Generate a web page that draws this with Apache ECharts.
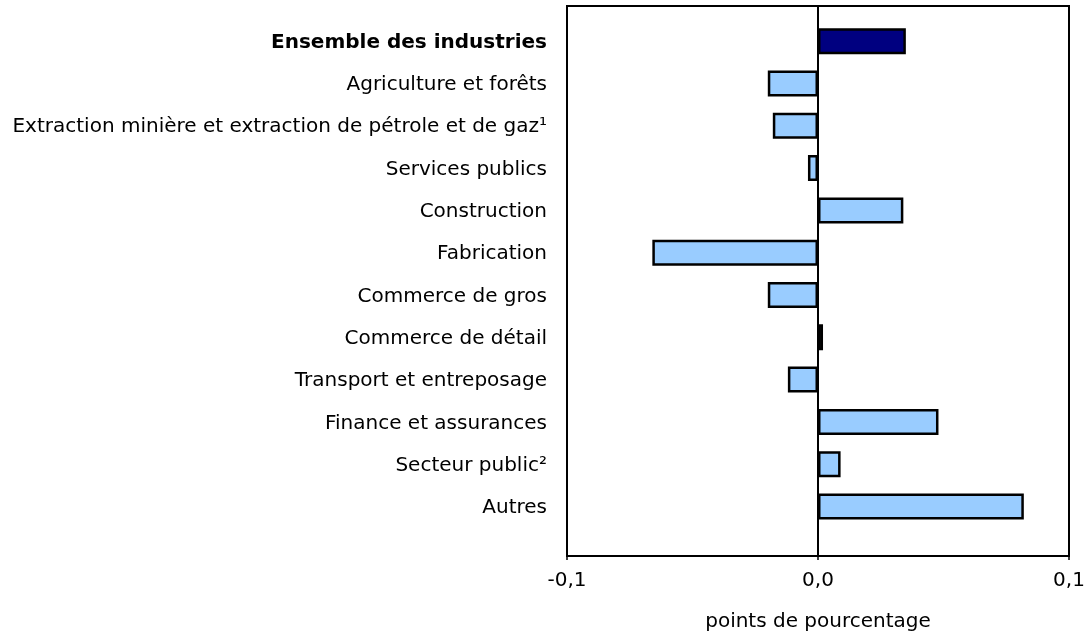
<!DOCTYPE html>
<html>
<head>
<meta charset="utf-8">
<script src="https://cdn.jsdelivr.net/npm/echarts@6/dist/echarts.min.js"></script>
<style>
  html, body { margin: 0; padding: 0; background: #fff; }
  #chart { width: 1088px; height: 634px; }
</style>
</head>
<body>
<div id="chart"></div>
<script>
// categories, top to bottom
var categories = [
  "Ensemble des industries",
  "Agriculture et forêts",
  "Extraction minière et extraction de pétrole et de gaz¹",
  "Services publics",
  "Construction",
  "Fabrication",
  "Commerce de gros",
  "Commerce de détail",
  "Transport et entreposage",
  "Finance et assurances",
  "Secteur public²",
  "Autres"
];
// points de pourcentage
var values = [0.035, -0.020, -0.018, -0.004, 0.034, -0.066, -0.020, 0.002, -0.012, 0.048, 0.009, 0.082];
var xMin = -0.1, xMax = 0.1, xStep = 0.1;

var font = "'DejaVu Sans', Verdana, sans-serif";
var fs = 20;
var chart = echarts.init(document.getElementById('chart'));

var barData = values.map(function (v, i) {
  return {
    value: v,
    itemStyle: { color: i === 0 ? '#000080' : '#99ccff' }
  };
});

var option = {
  animation: false,
  grid: [
    // frame
    { left: 567, top: 6, width: 502, height: 550, show: true, borderColor: '#000', borderWidth: 2,
      backgroundColor: 'transparent', containLabel: false, outerBoundsMode: 'none' },
    // bars (an empty band at the bottom)
    { left: 567, top: 20, width: 502, height: 550, containLabel: false, outerBoundsMode: 'none' }
  ],
  xAxis: [{
    gridIndex: 0,
    type: 'value',
    min: xMin, max: xMax, interval: xStep,
    name: 'points de pourcentage',
    nameLocation: 'middle',
    nameGap: 56,
    nameTextStyle: { fontFamily: font, fontSize: fs, color: '#000' },
    axisLine: { show: true, lineStyle: { color: '#000', width: 2 } },
    axisTick: { show: true, length: 4, lineStyle: { color: '#000', width: 1.5 } },
    splitLine: { show: false },
    axisLabel: {
      fontFamily: font, fontSize: fs, color: '#000', margin: 15,
      formatter: function (v) { return v.toFixed(1).replace('.', ','); }
    }
  }, {
    gridIndex: 1,
    type: 'value',
    min: xMin, max: xMax,
    show: false
  }],
  yAxis: [{
    gridIndex: 0,
    type: 'category',
    data: [''],
    axisLine: { show: true, onZero: true, lineStyle: { color: '#000', width: 2 } },
    axisTick: { show: false },
    axisLabel: { show: false }
  }, {
    gridIndex: 1,
    type: 'category',
    inverse: true,
    data: categories.concat(['']),
    axisLine: { show: false, onZero: false },
    axisTick: { show: false },
    axisLabel: {
      margin: 20,
      padding: [3, 0, 0, 0],
      fontFamily: font, fontSize: fs, color: '#000',
      formatter: function (v, i) {
        return i === 0 ? '{b|' + v + '}' : v;
      },
      rich: { b: { fontFamily: font, fontSize: fs, fontWeight: 'bold', color: '#000' } }
    }
  }],
  series: [{
    type: 'bar',
    xAxisIndex: 1,
    yAxisIndex: 1,
    barWidth: 26,
    data: barData,
    itemStyle: { borderColor: '#000', borderWidth: 2.5 }
  }]
};
chart.setOption(option);
</script>
</body>
</html>
